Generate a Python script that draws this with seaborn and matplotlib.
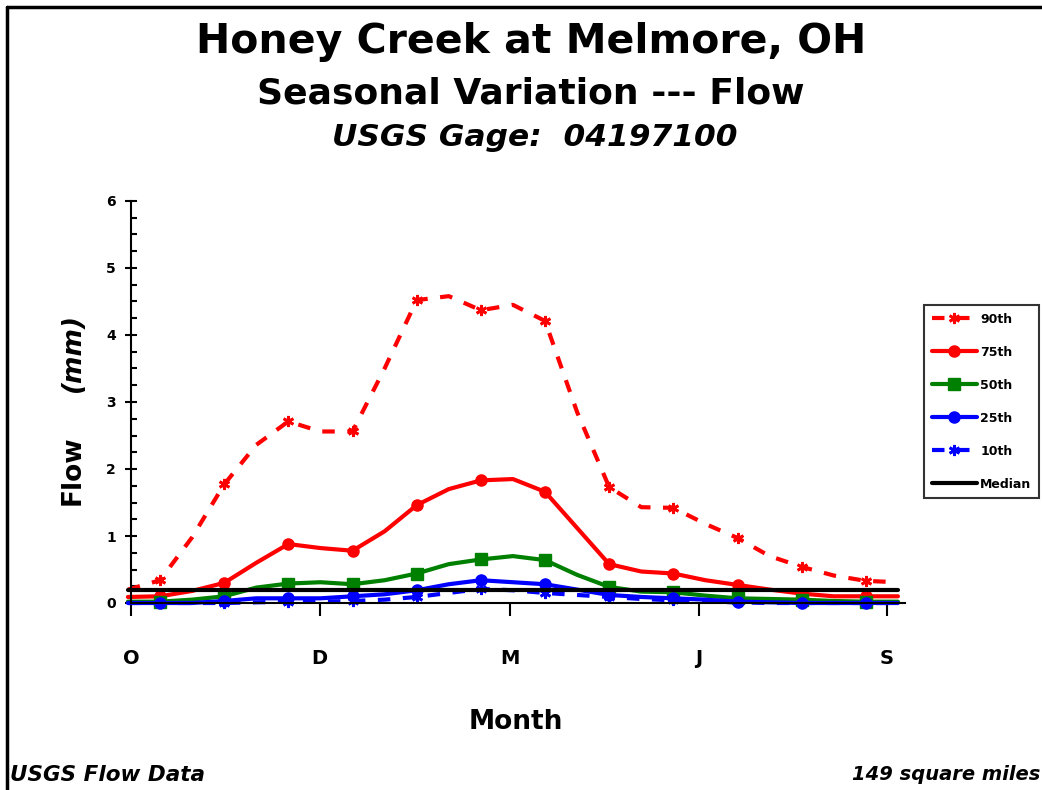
import numpy as np
import pandas as pd
import seaborn as sns
import matplotlib.pyplot as plt
from matplotlib.lines import Line2D

# half-month sample positions (marker every whole month)
month_pos = [0.5, 1, 1.5, 2, 2.5, 3, 3.5, 4, 4.5, 5, 5.5, 6, 6.5, 7, 7.5, 8,
             8.5, 9, 9.5, 10, 10.5, 11, 11.5, 12, 12.5]
p90 = [0.20, 0.34, 0.98, 1.77, 2.36, 2.71, 2.56, 2.56, 3.50, 4.52, 4.58, 4.37, 4.45,
       4.21, 2.85, 1.73, 1.43, 1.42, 1.18, 0.97, 0.70, 0.54, 0.41, 0.33, 0.31]
p75 = [0.09, 0.10, 0.18, 0.30, 0.60, 0.88, 0.82, 0.78, 1.07, 1.46, 1.70, 1.83, 1.85,
       1.66, 1.12, 0.58, 0.47, 0.44, 0.34, 0.27, 0.20, 0.14, 0.10, 0.10, 0.10]
p50 = [0.02, 0.02, 0.05, 0.10, 0.23, 0.29, 0.31, 0.28, 0.34, 0.44, 0.58, 0.65, 0.70,
       0.64, 0.42, 0.24, 0.17, 0.16, 0.11, 0.07, 0.06, 0.05, 0.03, 0.02, 0.02]
p25 = [0.00, 0.00, 0.00, 0.03, 0.07, 0.07, 0.07, 0.10, 0.13, 0.19, 0.28, 0.34, 0.31,
       0.28, 0.20, 0.12, 0.09, 0.07, 0.05, 0.02, 0.01, 0.00, 0.00, 0.00, 0.00]
p10 = [0.00, 0.00, 0.00, 0.00, 0.01, 0.02, 0.02, 0.03, 0.05, 0.09, 0.15, 0.21, 0.19,
       0.15, 0.12, 0.09, 0.06, 0.04, 0.02, 0.01, 0.00, 0.00, 0.00, 0.00, 0.00]
median = [0.20] * len(month_pos)

tick_pos = [0.548, 3.49, 6.45, 9.40, 12.33]
tick_labels = ["O", "D", "M", "J", "S"]

# name, values, colour, dashes, marker, marker size, marker edge width
series = [
    ("90th", p90, "#ff0000", (3, 3), (6, 2, 0), 8, 2),
    ("75th", p75, "#ff0000", "", "o", 8, 1),
    ("50th", p50, "#008000", "", "s", 8, 1),
    ("25th", p25, "#0000ff", "", "o", 8, 1),
    ("10th", p10, "#0000ff", (3, 3), (6, 2, 0), 8, 2),
    ("Median", median, "#000000", "", None, 0, 0),
]

sns.set_style("white")
plt.rcParams["font.family"] = ["DejaVu Sans"]
plt.rcParams["font.weight"] = "bold"
plt.rcParams["text.color"] = "black"
plt.rcParams["xtick.color"] = "black"
plt.rcParams["ytick.color"] = "black"

fig = plt.figure(figsize=(10.42, 7.9), dpi=100)
ax = fig.add_axes([131 / 1042, 1 - 603 / 790, (905 - 131) / 1042, (603 - 201) / 790])

handles = []
for name, vals, col, dash, mk, ms, mew in series:
    df = pd.DataFrame({"x": month_pos, "y": vals})
    sns.lineplot(data=df, x="x", y="y", ax=ax, color=col, lw=3, clip_on=False)
    line = ax.get_lines()[-1]
    if dash:
        line.set_dashes(dash)
    if mk is not None:
        whole = df[df["x"] % 1 == 0]
        ax.plot(whole["x"], whole["y"], ls="none", marker=mk, ms=ms, color=col,
                mec=col, mew=mew, clip_on=False)
    handles.append(Line2D([], [], color=col, lw=3, ls=(0, dash) if dash else "-",
                          marker=mk, ms=ms, mew=mew, markevery=[1]))

ax.set_xlim(0.548, 12.61)
ax.set_ylim(0, 6)
ax.set_xticks(tick_pos)
ax.set_xticklabels(tick_labels, fontsize=14, fontweight="bold")
ax.set_yticks(range(7))
ax.set_yticklabels([str(i) for i in range(7)], fontsize=10, fontweight="bold")
ax.set_yticks(np.arange(0, 6.01, 0.25), minor=True)
ax.tick_params(axis="x", direction="out", length=9, width=1.5, pad=24, bottom=True)
ax.tick_params(axis="y", which="major", direction="inout", length=8, width=1.5, pad=7, left=True)
ax.tick_params(axis="y", which="minor", direction="in", length=4, width=1.5, left=True)
for s in ["top", "right"]:
    ax.spines[s].set_visible(False)
for s in ["left", "bottom"]:
    ax.spines[s].set_linewidth(1.5)
    ax.spines[s].set_color("black")
ax.set_xlabel("")
ax.set_ylabel("")

leg = fig.legend(handles, [s[0] for s in series], loc="upper left",
                 bbox_to_anchor=(924 / 1042, 1 - 305 / 790), frameon=True,
                 fancybox=False, edgecolor="black", fontsize=9, handlelength=3.6,
                 labelspacing=1.6, borderpad=0.6, handletextpad=0.3,
                 borderaxespad=0)
leg.get_frame().set_linewidth(1.5)
for t in leg.get_texts():
    t.set_fontweight("bold")

fig.text(531 / 1042, 1 - 42 / 790, "Honey Creek at Melmore, OH", ha="center", va="center",
         fontsize=29.5, fontweight="bold")
fig.text(531 / 1042, 1 - 93 / 790, "Seasonal Variation --- Flow", ha="center", va="center",
         fontsize=26, fontweight="bold")
fig.text(535 / 1042, 1 - 137 / 790, "USGS Gage:  04197100", ha="center", va="center",
         fontsize=22.5, fontweight="bold", style="italic")
fig.text(73 / 1042, 1 - 470 / 790, "Flow", rotation=90, ha="center", va="center",
         fontsize=19, fontweight="bold")
fig.text(73 / 1042, 1 - 353 / 790, "(mm)", rotation=90, ha="center", va="center",
         fontsize=19, fontweight="bold", style="italic")
fig.text(516 / 1042, 1 - 722 / 790, "Month", ha="center", va="center",
         fontsize=19, fontweight="bold")
fig.text(10 / 1042, 1 - 775 / 790, "USGS Flow Data", ha="left", va="center",
         fontsize=15.5, fontweight="bold", style="italic")
fig.text(1040 / 1042, 1 - 775 / 790, "149 square miles", ha="right", va="center",
         fontsize=14, fontweight="bold", style="italic")

# page border (left and top)
fig.add_artist(Line2D([7 / 1042, 7 / 1042], [0, 1 - 7 / 790], color="black", lw=2.5))
fig.add_artist(Line2D([7 / 1042, 1], [1 - 7 / 790, 1 - 7 / 790], color="black", lw=2.5))

fig.savefig("out.png", dpi=100)
